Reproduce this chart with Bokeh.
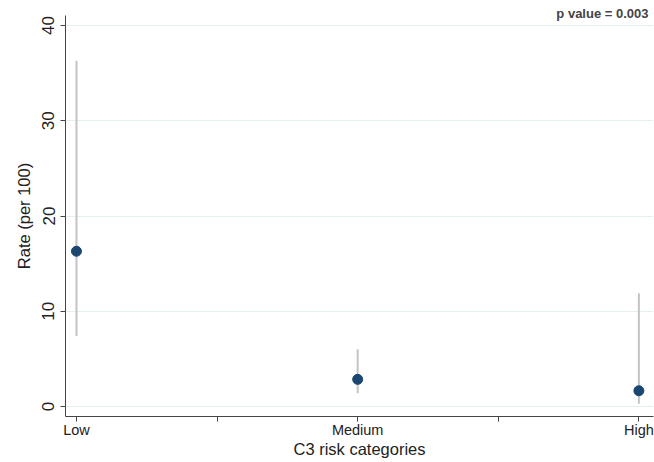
from bokeh.plotting import figure
from bokeh.models import FixedTicker, Range1d
from bokeh.embed import file_html
from bokeh.resources import INLINE

categories = ["Low", "Medium", "High"]
positions = [1, 2, 3]
rate = [16.3, 2.85, 1.65]
lower = [7.4, 1.4, 0.3]
upper = [36.3, 6.0, 11.9]
y_ticks = [0, 10, 20, 30, 40]
p_text = "p value = 0.003"

FONT = "Liberation Sans"

p = figure(width=654, height=462, output_backend="svg", toolbar_location=None,
           x_range=Range1d(0.961, 3.052), y_range=Range1d(-1.05, 41.05),
           min_border_left=65, min_border_right=1, min_border_top=15, min_border_bottom=46)
p.outline_line_color = None
p.background_fill_color = "white"

p.segment(x0=positions, y0=lower, x1=positions, y1=upper, line_color="#c4c4c4", line_width=2)
p.scatter(positions, rate, size=10, fill_color="#1a476f", line_color="#1a476f")

p.xaxis.ticker = FixedTicker(ticks=[1, 1.5, 2, 2.5, 3])
p.xaxis.major_label_overrides = {1: categories[0], 1.5: "", 2: categories[1], 2.5: "", 3: categories[2]}
p.xaxis.minor_tick_line_color = None
p.yaxis.minor_tick_line_color = None
p.yaxis.ticker = FixedTicker(ticks=y_ticks)
p.yaxis.major_label_orientation = "vertical"

for ax in (p.xaxis, p.yaxis):
    ax.axis_line_color = "#444444"
    ax.major_tick_line_color = "#444444"
    ax.major_tick_in = 0
    ax.major_tick_out = 5
    ax.major_label_text_font = FONT
    ax.major_label_text_color = "#222222"
    ax.axis_label_text_font = FONT
    ax.axis_label_text_font_style = "normal"
    ax.axis_label_text_color = "#222222"
    ax.axis_label_text_font_size = "16.5px"

p.xaxis.major_label_text_font_size = "14.5px"
p.yaxis.major_label_text_font_size = "17px"
p.xaxis.major_label_standoff = 0
p.yaxis.major_label_standoff = 6
p.xaxis.axis_label = "C3 risk categories"
p.yaxis.axis_label = "Rate (per 100)"
p.xaxis.axis_label_standoff = -1
p.yaxis.axis_label_standoff = 7

p.xgrid.grid_line_color = None
p.ygrid.grid_line_color = "#e6eff0"
p.ygrid.grid_line_width = 1

p.title.text = p_text
p.title.align = "right"
p.title.vertical_align = "bottom"
p.title.standoff = -10
p.title.offset = 5
p.title.text_font = FONT
p.title.text_font_style = "bold"
p.title.text_font_size = "13px"
p.title.text_color = "#444444"

open("out.html", "w").write(file_html(p, INLINE))
